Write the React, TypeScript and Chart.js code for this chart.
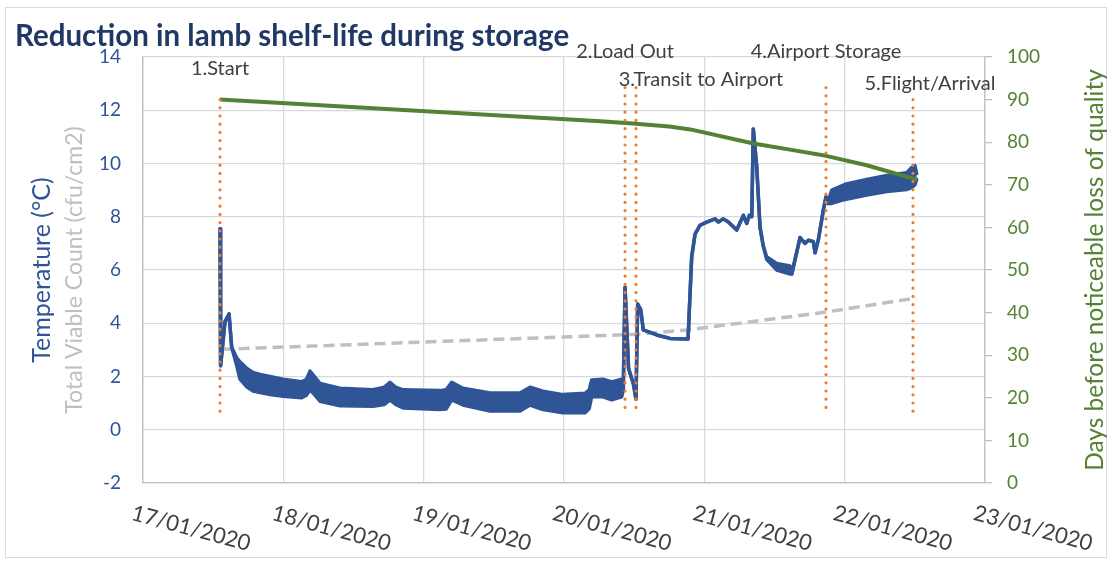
import React, { useEffect, useRef } from 'react';
import { Chart, registerables } from 'chart.js';

Chart.register(...registerables);

// ---------- data (x values = days after 17/01/2020 00:00) ----------
const chartTitle = 'Reduction in lamb shelf-life during storage';
const dateLabels = ['17/01/2020', '18/01/2020', '19/01/2020', '20/01/2020', '21/01/2020', '22/01/2020', '23/01/2020'];

const tempDays = [0.549, 0.553, 0.584, 0.613, 0.632, 0.668, 0.691, 0.741, 0.784, 0.834, 0.905, 0.998, 1.131, 1.165, 1.19, 1.225, 1.261, 1.404, 1.639, 1.72, 1.76, 1.8, 1.853, 2.116, 2.16, 2.2, 2.28, 2.473, 2.686, 2.758, 2.85, 2.993, 3.15, 3.18, 3.197, 3.278, 3.34, 3.411, 3.423, 3.435, 3.46, 3.494, 3.513, 3.525, 3.547, 3.565, 3.661, 3.755, 3.884, 3.91, 3.934, 3.969, 4.017, 4.076, 4.1, 4.135, 4.171, 4.231, 4.278, 4.302, 4.321, 4.338, 4.349, 4.373, 4.397, 4.42, 4.444, 4.516, 4.611, 4.623, 4.682, 4.717, 4.741, 4.777, 4.789, 4.812, 4.848, 4.867, 4.878, 4.908, 5.003, 5.157, 5.3, 5.442, 5.478, 5.501, 5.513];
// upper and lower envelope of the logged temperature (°C)
const tempHigh = [7.55, 2.4, 4.05, 4.35, 3.1, 2.7, 2.55, 2.3, 2.15, 2.08, 2.0, 1.9, 1.8, 1.9, 2.2, 1.98, 1.74, 1.56, 1.5, 1.6, 1.78, 1.6, 1.5, 1.47, 1.5, 1.78, 1.56, 1.38, 1.38, 1.6, 1.45, 1.32, 1.37, 1.5, 1.87, 1.9, 1.8, 1.9, 1.9, 5.35, 2.3, 1.74, 1.15, 4.72, 4.5, 3.75, 3.56, 3.43, 3.41, 6.5, 7.35, 7.68, 7.8, 7.92, 7.8, 7.92, 7.8, 7.5, 8.05, 7.75, 8.05, 8.0, 11.3, 9.9, 7.6, 6.9, 6.5, 6.25, 6.15, 5.85, 7.22, 7.0, 7.12, 7.06, 6.65, 7.12, 8.25, 8.75, 8.5, 9.0, 9.22, 9.4, 9.55, 9.65, 9.85, 9.92, 9.62];
const tempLow = [7.55, 2.4, 4.05, 4.35, 3.1, 2.4, 1.9, 1.6, 1.45, 1.4, 1.32, 1.26, 1.2, 1.3, 1.5, 1.3, 1.07, 0.9, 0.88, 0.95, 1.12, 0.95, 0.82, 0.76, 0.78, 1.12, 0.93, 0.7, 0.7, 0.93, 0.76, 0.64, 0.64, 0.8, 1.24, 1.24, 1.12, 1.24, 1.5, 5.35, 2.3, 1.74, 1.15, 4.72, 4.5, 3.75, 3.56, 3.43, 3.41, 6.5, 7.35, 7.68, 7.8, 7.92, 7.8, 7.92, 7.8, 7.5, 8.05, 7.75, 8.05, 8.0, 11.3, 9.9, 7.6, 6.9, 6.4, 6.0, 5.85, 5.85, 7.22, 7.0, 7.12, 7.06, 6.65, 7.12, 8.25, 8.75, 8.5, 8.5, 8.65, 8.82, 8.95, 9.02, 9.1, 9.2, 9.4];

const shelfDays = [0.549, 3.26, 3.49, 3.75, 3.9, 4.35, 4.62, 4.867, 5.157, 5.515];
const shelfLife = [90, 84.9, 84.4, 83.7, 83.0, 79.7, 78.2, 76.8, 74.6, 71.2];

const tvcDays = [0.56, 3.5, 3.88, 4.867, 5.51];
const tvcValues = [3.02, 3.58, 3.75, 4.42, 4.95];

const stageNames = ['1.Start', '2.Load Out', '3.Transit to Airport', '4.Airport Storage', '5.Flight/Arrival'];
const stageDays = [0.549, 3.435, 3.513, 4.867, 5.487];
const stageTop = [12.4, 12.85, 12.85, 12.85, 12.4];
const stageBottom = 0.6;

// ---------- layout / style ----------
const stageLabelPos = [
  { x: 0.549, y: 13.55 },
  { x: 3.435, y: 14.19 },
  { x: 3.976, y: 13.17 },
  { x: 4.867, y: 14.19 },
  { x: 5.608, y: 13.02 },
];
const FONT = 'Lato, "Open Sans", sans-serif';
const BLUE = '#2F5597';
const GREEN = '#548235';
const GREY = '#BFBFBF';
const ORANGE = '#ED7D31';
const GRID = '#D9D9D9';
const TEXT = '#404040';

const pts = (xs: number[], ys: number[]) => xs.map((x, i) => ({ x, y: ys[i] }));

const overlay = {
  id: 'overlay',
  afterDraw(chart: any) {
    const { ctx } = chart;
    const x = chart.scales.x;
    const y = chart.scales.y;
    ctx.save();
    // outer border
    ctx.strokeStyle = GRID;
    ctx.lineWidth = 1;
    ctx.strokeRect(5.5, 7.5, 1101, 550);
    // title
    ctx.font = `bold 29.5px ${FONT}`;
    ctx.fillStyle = '#1F3864';
    ctx.textAlign = 'left';
    ctx.textBaseline = 'alphabetic';
    ctx.fillText(chartTitle, 15, 46);
    // stage labels
    ctx.font = `20px ${FONT}`;
    ctx.fillStyle = TEXT;
    ctx.textAlign = 'center';
    ctx.textBaseline = 'middle';
    stageNames.forEach((n, i) => {
      ctx.fillText(n, x.getPixelForValue(stageLabelPos[i].x), y.getPixelForValue(stageLabelPos[i].y));
    });
    // x tick labels (rotated clockwise)
    ctx.font = `22px ${FONT}`;
    ctx.fillStyle = TEXT;
    ctx.textAlign = 'left';
    ctx.textBaseline = 'top';
    dateLabels.forEach((l, i) => {
      const px = x.getPixelForValue(i);
      ctx.save();
      ctx.translate(px - 8, 502);
      ctx.rotate((15 * Math.PI) / 180);
      ctx.fillText(l, 0, 0);
      ctx.restore();
    });
    // axis titles
    const midY = (chart.chartArea.top + chart.chartArea.bottom) / 2;
    const vText = (t: string, cx: number, color: string, size: number) => {
      ctx.save();
      ctx.translate(cx, midY);
      ctx.rotate(-Math.PI / 2);
      ctx.font = `${size}px ${FONT}`;
      ctx.fillStyle = color;
      ctx.textAlign = 'center';
      ctx.textBaseline = 'middle';
      ctx.fillText(t, 0, 0);
      ctx.restore();
    };
    vText('Temperature (°C)', 42, BLUE, 25);
    vText('Total Viable Count (cfu/cm2)', 75, GREY, 23);
    vText('Days before noticeable loss of quality', 1095, GREEN, 24.5);
    ctx.restore();
  },
};

export default function App() {
  const ref = useRef<HTMLCanvasElement>(null);
  useEffect(() => {
    if (!ref.current) return;
    const stageSets = stageNames.map((n, i) => ({
      label: n,
      data: [
        { x: stageDays[i], y: stageTop[i] },
        { x: stageDays[i], y: stageBottom },
      ],
      yAxisID: 'y',
      borderColor: ORANGE,
      borderWidth: 3.2,
      borderDash: [0, 8.2],
      borderCapStyle: 'round' as const,
      pointRadius: 0,
      fill: false,
      order: 0,
    }));
    const chart = new Chart(ref.current, {
      type: 'line',
      data: {
        datasets: [
          {
            label: 'Temperature high',
            data: pts(tempDays, tempHigh),
            yAxisID: 'y',
            borderColor: BLUE,
            backgroundColor: BLUE,
            borderWidth: 3.5,
            borderJoinStyle: 'round',
            borderCapStyle: 'round',
            pointRadius: 0,
            fill: '+1',
            order: 2,
          },
          {
            label: 'Temperature low',
            data: pts(tempDays, tempLow),
            yAxisID: 'y',
            borderColor: BLUE,
            borderWidth: 3.5,
            borderJoinStyle: 'round',
            borderCapStyle: 'round',
            pointRadius: 0,
            fill: false,
            order: 2,
          },
          {
            label: 'Days before noticeable loss of quality',
            data: pts(shelfDays, shelfLife),
            yAxisID: 'y2',
            borderColor: GREEN,
            borderWidth: 4,
            borderJoinStyle: 'round',
            pointRadius: 0,
            fill: false,
            order: 1,
          },
          {
            label: 'Total Viable Count',
            data: pts(tvcDays, tvcValues),
            yAxisID: 'y',
            borderColor: GREY,
            borderWidth: 3.5,
            borderDash: [11, 6],
            pointRadius: 0,
            fill: false,
            order: 3,
          },
          ...stageSets,
        ] as any,
      },
      options: {
        animation: false,
        responsive: false,
        maintainAspectRatio: false,
        layout: { padding: { top: 57, left: 0, right: 0, bottom: 0 } },
        plugins: {
          legend: { display: false },
          tooltip: { enabled: false },
          title: { display: false },
        },
        scales: {
          x: {
            type: 'linear',
            position: 'bottom',
            min: 0,
            max: 6,
            ticks: { stepSize: 1, display: false },
            grid: { color: GRID, lineWidth: 1.3, drawTicks: false },
            border: { color: GREY, width: 1.3 },
            afterFit: (s: any) => {
              s.height = 80;
            },
          },
          y: {
            type: 'linear',
            position: 'left',
            min: -2,
            max: 14,
            ticks: { stepSize: 2, color: BLUE, padding: 22, font: { family: FONT, size: 19 } },
            grid: { color: GRID, lineWidth: 1.3, drawTicks: false },
            border: { color: GREY, width: 1.3 },
            afterFit: (s: any) => {
              s.width = 143;
            },
          },
          y2: {
            type: 'linear',
            position: 'right',
            min: 0,
            max: 100,
            ticks: { stepSize: 10, color: GREEN, padding: 15, font: { family: FONT, size: 19 } },
            grid: { drawOnChartArea: false, drawTicks: true, tickLength: 7, tickColor: GREY, lineWidth: 1.3 },
            border: { color: GREY, width: 1.3 },
            afterFit: (s: any) => {
              s.width = 127;
            },
          },
        },
      } as any,
      plugins: [overlay],
    });
    return () => chart.destroy();
  }, []);
  return (
    <div style={{ position: 'absolute', left: 0, top: 0, width: 1112, height: 563, background: '#fff' }}>
      <canvas ref={ref} width={1112} height={563} style={{ display: 'block', width: 1112, height: 563 }} />
    </div>
  );
}
